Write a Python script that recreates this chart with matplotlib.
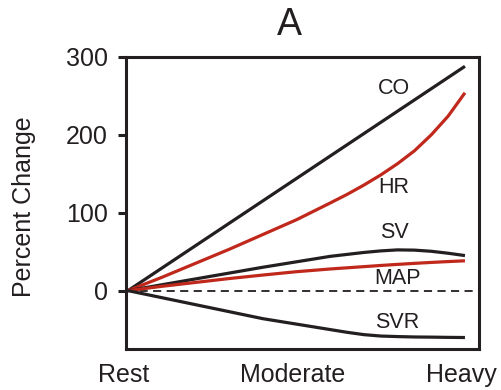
import matplotlib
matplotlib.use("Agg")
import matplotlib.pyplot as plt
from matplotlib.transforms import ScaledTranslation

# ---- data ----
x_ticks = [0, 1, 2]
x_labels = ["Rest", "Moderate", "Heavy"]
y_ticks = [0, 100, 200, 300]

x_co = [0, 1, 2]
co = [0, 144, 288]

x_pts = [0, 0.2, 0.4, 0.6, 0.8, 1.0, 1.2, 1.3, 1.4, 1.5, 1.6, 1.7, 1.8, 1.9, 2.0]
hr = [0, 17, 35, 53, 72, 91, 112.5, 123.5, 135.5, 148.5, 163, 179.5, 200, 224, 254]
sv = [0, 7.5, 15, 22.5, 30, 37, 44, 46.5, 49, 51, 52.3, 52, 50.5, 48, 45]
map_ = [0, 5.5, 10.5, 15.5, 20, 24.3, 27.8, 29.3, 30.8, 32.3, 33.7, 35, 36.2, 37.3, 38.3]
svr = [0, -9, -18, -27, -36, -43, -50, -53.5, -56.5, -58.3, -59, -59.5, -59.7, -60, -60.2]

labels = ["CO", "HR", "SV", "MAP", "SVR"]
label_x = [1.58, 1.58, 1.58, 1.60, 1.60]
label_y = [259, 133, 74, 15, -41]

BLACK = "#231f20"
RED = "#c0281c"
FONT = "Liberation Sans"

plt.rcParams["font.family"] = [FONT, "DejaVu Sans"]

fig = plt.figure(figsize=(5.01, 3.90), dpi=100)
ax = fig.add_axes([0.2515, 0.105, 0.956 - 0.2515, 0.854 - 0.105])

lw = 2.3
kw = dict(lw=lw, solid_capstyle="butt", solid_joinstyle="round")
ax.plot(x_co, co, color=BLACK, **kw)
ax.plot(x_pts, hr, color=RED, **kw)
ax.plot(x_pts, sv, color=BLACK, **kw)
ax.plot(x_pts, map_, color=RED, **kw)
ax.plot(x_pts, svr, color=BLACK, **kw)
ax.axhline(0, xmin=0.0, xmax=1.0, color=BLACK, lw=1.3, ls=(0, (4.5, 3)), zorder=1)

for t, lx, ly in zip(labels, label_x, label_y):
    ax.text(lx, ly, t, ha="center", va="center", fontsize=15.5, color=BLACK)

ax.set_xlim(-0.012, 2.083)
ax.set_ylim(-75, 300)
ax.set_xticks(x_ticks)
ax.set_xticklabels(x_labels)
ax.set_yticks(y_ticks)
ax.tick_params(axis="x", length=0, pad=10, labelsize=18, colors=BLACK)
ax.tick_params(axis="y", length=6, width=2.2, pad=7, labelsize=18, colors=BLACK)
shift = ScaledTranslation(-4 / 100, 0, fig.dpi_scale_trans)
for lab in ax.get_xticklabels():
    lab.set_transform(lab.get_transform() + shift)
for s in ax.spines.values():
    s.set_linewidth(2.2)
    s.set_color(BLACK)

fig.text(24 / 501, 1 - 207 / 390, "Percent Change", rotation=90, ha="center",
         va="center", fontsize=18, color=BLACK)
fig.text(289 / 501, 1 - 25 / 390, "A", ha="center", va="center", fontsize=27,
         color=BLACK)

fig.savefig("out.png", dpi=100)
